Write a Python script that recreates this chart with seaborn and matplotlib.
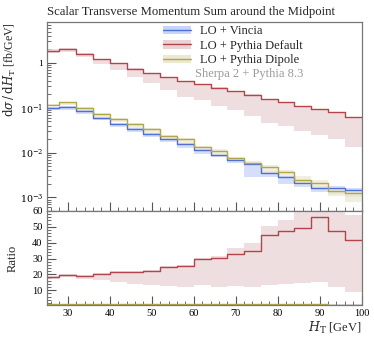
# =====================================
# Scalar HT sum around the midpoint
# =====================================

# 1. Import Libraries
import numpy as np
import pandas as pd
import matplotlib
matplotlib.use("Agg")
import matplotlib.pyplot as plt
import seaborn as sns
from matplotlib.patches import Patch
from matplotlib.lines import Line2D
from matplotlib.legend_handler import HandlerTuple
from matplotlib.ticker import MultipleLocator, FixedLocator, LogLocator, NullFormatter

# 2. Data
bin_edges = [24, 28, 32, 36, 40, 44, 48, 52, 56, 60, 64, 68, 72, 76, 80, 84, 88, 92, 96, 100]

vincia = [0.100, 0.105, 0.084, 0.060, 0.044, 0.034, 0.026, 0.020, 0.0153, 0.0115,
          0.0090, 0.0070, 0.0055, 0.0035, 0.0028, 0.0021, 0.0016, 0.00165, 0.0015]
vincia_lo = [0.088, 0.090, 0.072, 0.052, 0.038, 0.029, 0.022, 0.017, 0.0128, 0.0095,
             0.0078, 0.0060, 0.0028, 0.0028, 0.0020, 0.0017, 0.0013, 0.0012, 0.0010]
vincia_hi = [0.104, 0.108, 0.087, 0.062, 0.046, 0.035, 0.027, 0.021, 0.016, 0.012,
             0.0094, 0.0073, 0.0058, 0.0038, 0.0030, 0.0023, 0.0018, 0.0018, 0.0016]

pythia = [1.88, 2.0, 1.6, 1.21, 0.98, 0.74, 0.60, 0.48, 0.39, 0.34,
          0.28, 0.234, 0.195, 0.158, 0.133, 0.109, 0.092, 0.080, 0.062]
pythia_lo = [1.67, 1.78, 1.38, 0.95, 0.70, 0.48, 0.35, 0.25, 0.17, 0.15,
             0.112, 0.087, 0.067, 0.046, 0.040, 0.031, 0.025, 0.0197, 0.0133]
pythia_hi = [2.05, 2.1, 1.65, 1.25, 1.0, 0.76, 0.61, 0.49, 0.40, 0.345,
             0.285, 0.24, 0.20, 0.16, 0.135, 0.11, 0.093, 0.081, 0.063]

dipole = [0.118, 0.131, 0.098, 0.072, 0.057, 0.043, 0.033, 0.024, 0.020, 0.0133,
          0.0109, 0.0074, 0.0058, 0.0047, 0.0037, 0.0025, 0.0021, 0.00138, 0.00123]
dipole_lo = [0.108, 0.118, 0.088, 0.063, 0.047, 0.036, 0.027, 0.020, 0.016, 0.0112,
             0.0090, 0.0062, 0.0050, 0.0036, 0.0030, 0.0019, 0.0016, 0.0011, 0.0008]
dipole_hi = [0.122, 0.136, 0.102, 0.075, 0.059, 0.045, 0.035, 0.025, 0.021, 0.0140,
             0.0118, 0.0080, 0.0064, 0.0052, 0.0040, 0.0030, 0.0025, 0.0017, 0.0014]

# ratio to Vincia
ratio_vincia = [1.0] * 19
ratio_pythia = [18.3, 19.4, 19.0, 20.0, 21.7, 21.7, 22.3, 24.6, 25.4, 29.8,
                30.2, 32.9, 35.0, 45.0, 47.5, 49.2, 56.5, 47.5, 41.9]
ratio_pythia_lo = [17.3, 18.3, 16.9, 16.25, 15.2, 13.75, 13.1, 12.7, 12.1, 13.1,
                   12.1, 12.7, 12.1, 13.1, 14.0, 14.6, 15.2, 11.9, 9.0]
ratio_pythia_hi = [19.0, 20.0, 19.4, 20.8, 22.3, 22.3, 22.7, 25.2, 26.0, 30.6,
                   31.9, 36.7, 39.8, 50.6, 54.2, 61.0, 61.0, 61.0, 57.3]
ratio_dipole = [1.18, 1.25, 1.17, 1.2, 1.3, 1.26, 1.27, 1.2, 1.3, 1.16,
                1.21, 1.06, 1.05, 1.34, 1.32, 1.19, 1.31, 0.89, 0.82]

labels = ["LO + Vincia", "LO + Pythia Default", "LO + Pythia Dipole"]
line_colors = ["#4f6fd8", "#b3444c", "#b0a64a"]
band_colors = ["#c9d5f8", "#ead3d5", "#ece9d2"]

# 3. Style
sns.set_theme(style="ticks")
plt.rcParams["font.family"] = ["Liberation Serif", "DejaVu Serif"]
plt.rcParams["mathtext.fontset"] = "dejavuserif"

fig = plt.figure(figsize=(3.74, 3.37), dpi=100)
ax = fig.add_axes([0.125, 0.374, 0.842, 0.561])
rax = fig.add_axes([0.125, 0.095, 0.842, 0.279], sharex=ax)


def step(vals):
    return np.append(vals, vals[-1])


# 4. Main panel
main_sets = [(vincia, vincia_lo, vincia_hi), (pythia, pythia_lo, pythia_hi),
             (dipole, dipole_lo, dipole_hi)]
for (vals, lo, hi), lc, bc in zip(main_sets, line_colors, band_colors):
    ax.fill_between(bin_edges, step(lo), step(hi), step="post", color=bc,
                    alpha=0.75, lw=0)
for (vals, lo, hi), lc in zip(main_sets, line_colors):
    sns.lineplot(x=bin_edges, y=step(vals), drawstyle="steps-post", color=lc,
                 lw=1.0, ax=ax, legend=False)

ax.set_yscale("log")
ax.set_ylim(5e-4, 8.2)
ax.set_xlim(25, 100)

# 5. Ratio panel
ratio_sets = [(ratio_vincia, None, None), (ratio_pythia, ratio_pythia_lo, ratio_pythia_hi),
              (ratio_dipole, None, None)]
for (vals, lo, hi), lc, bc in zip(ratio_sets, line_colors, band_colors):
    if lo is not None:
        rax.fill_between(bin_edges, step(lo), step(hi), step="post", color=bc,
                         alpha=0.75, lw=0)
for (vals, lo, hi), lc in zip(ratio_sets, line_colors):
    sns.lineplot(x=bin_edges, y=step(vals), drawstyle="steps-post", color=lc,
                 lw=1.0, ax=rax, legend=False)
rax.set_ylim(0.7, 60)
rax.yaxis.set_major_locator(FixedLocator([10, 20, 30, 40, 50, 60]))
rax.yaxis.set_minor_locator(MultipleLocator(2))
rax.xaxis.set_major_locator(MultipleLocator(10))
rax.xaxis.set_minor_locator(MultipleLocator(2))

ax.yaxis.set_minor_locator(LogLocator(base=10, subs=np.arange(2, 10), numticks=20))
ax.yaxis.set_minor_formatter(NullFormatter())
ax.set_yticks([1e-3, 1e-2, 1e-1, 1])
ax.set_yticklabels([r"$10^{-3}$", r"$10^{-2}$", r"$10^{-1}$", "1"])
plt.setp(ax.get_xticklabels(), visible=False)

for a in (ax, rax):
    a.tick_params(which="both", direction="in", top=False, right=False,
                  labelsize=7.5, colors="#555555", labelcolor="black", pad=3)
    a.tick_params(which="major", length=6.5, width=0.8)
    a.tick_params(which="minor", length=3.2, width=0.6)
    for s in a.spines.values():
        s.set_color("#777777")
        s.set_linewidth(0.9)
ax.tick_params(axis="y", labelsize=6.8, pad=2.5)

# 6. Labels
ax.set_title("Scalar Transverse Momentum Sum around the Midpoint", loc="left",
             fontsize=9.2, pad=5)
ax.set_ylabel(r"$\mathrm{d}\sigma\,/\,\mathrm{d}H_\mathrm{T}$ [fb/GeV]", loc="top",
              fontsize=8.6)
ax.yaxis.set_label_coords(-0.09, 1.0)
ax.set_xlabel("")
rax.set_ylabel("Ratio", fontsize=9)
rax.yaxis.set_label_coords(-0.09, 0.5)
rax.set_xlabel(r"$H_\mathrm{T}$ [GeV]", loc="right", fontsize=9, labelpad=1)

# 7. Legend
handles = [(Patch(facecolor=bc, edgecolor="none"), Line2D([], [], color=lc, lw=1.0))
           for lc, bc in zip(line_colors, band_colors)]
ax.legend(handles, labels, handler_map={tuple: HandlerTuple(ndivide=1)},
          loc="upper left", bbox_to_anchor=(0.36, 0.995), frameon=False,
          fontsize=9, handlelength=2.3, handleheight=0.7, handletextpad=0.7,
          labelspacing=0.2, borderaxespad=0, borderpad=0.2)
ax.text(0.47, 0.725, "Sherpa 2 + Pythia 8.3", transform=ax.transAxes,
        fontsize=9, color="#9a9a9a", va="center", ha="left")

fig.savefig("out.png", dpi=100)
